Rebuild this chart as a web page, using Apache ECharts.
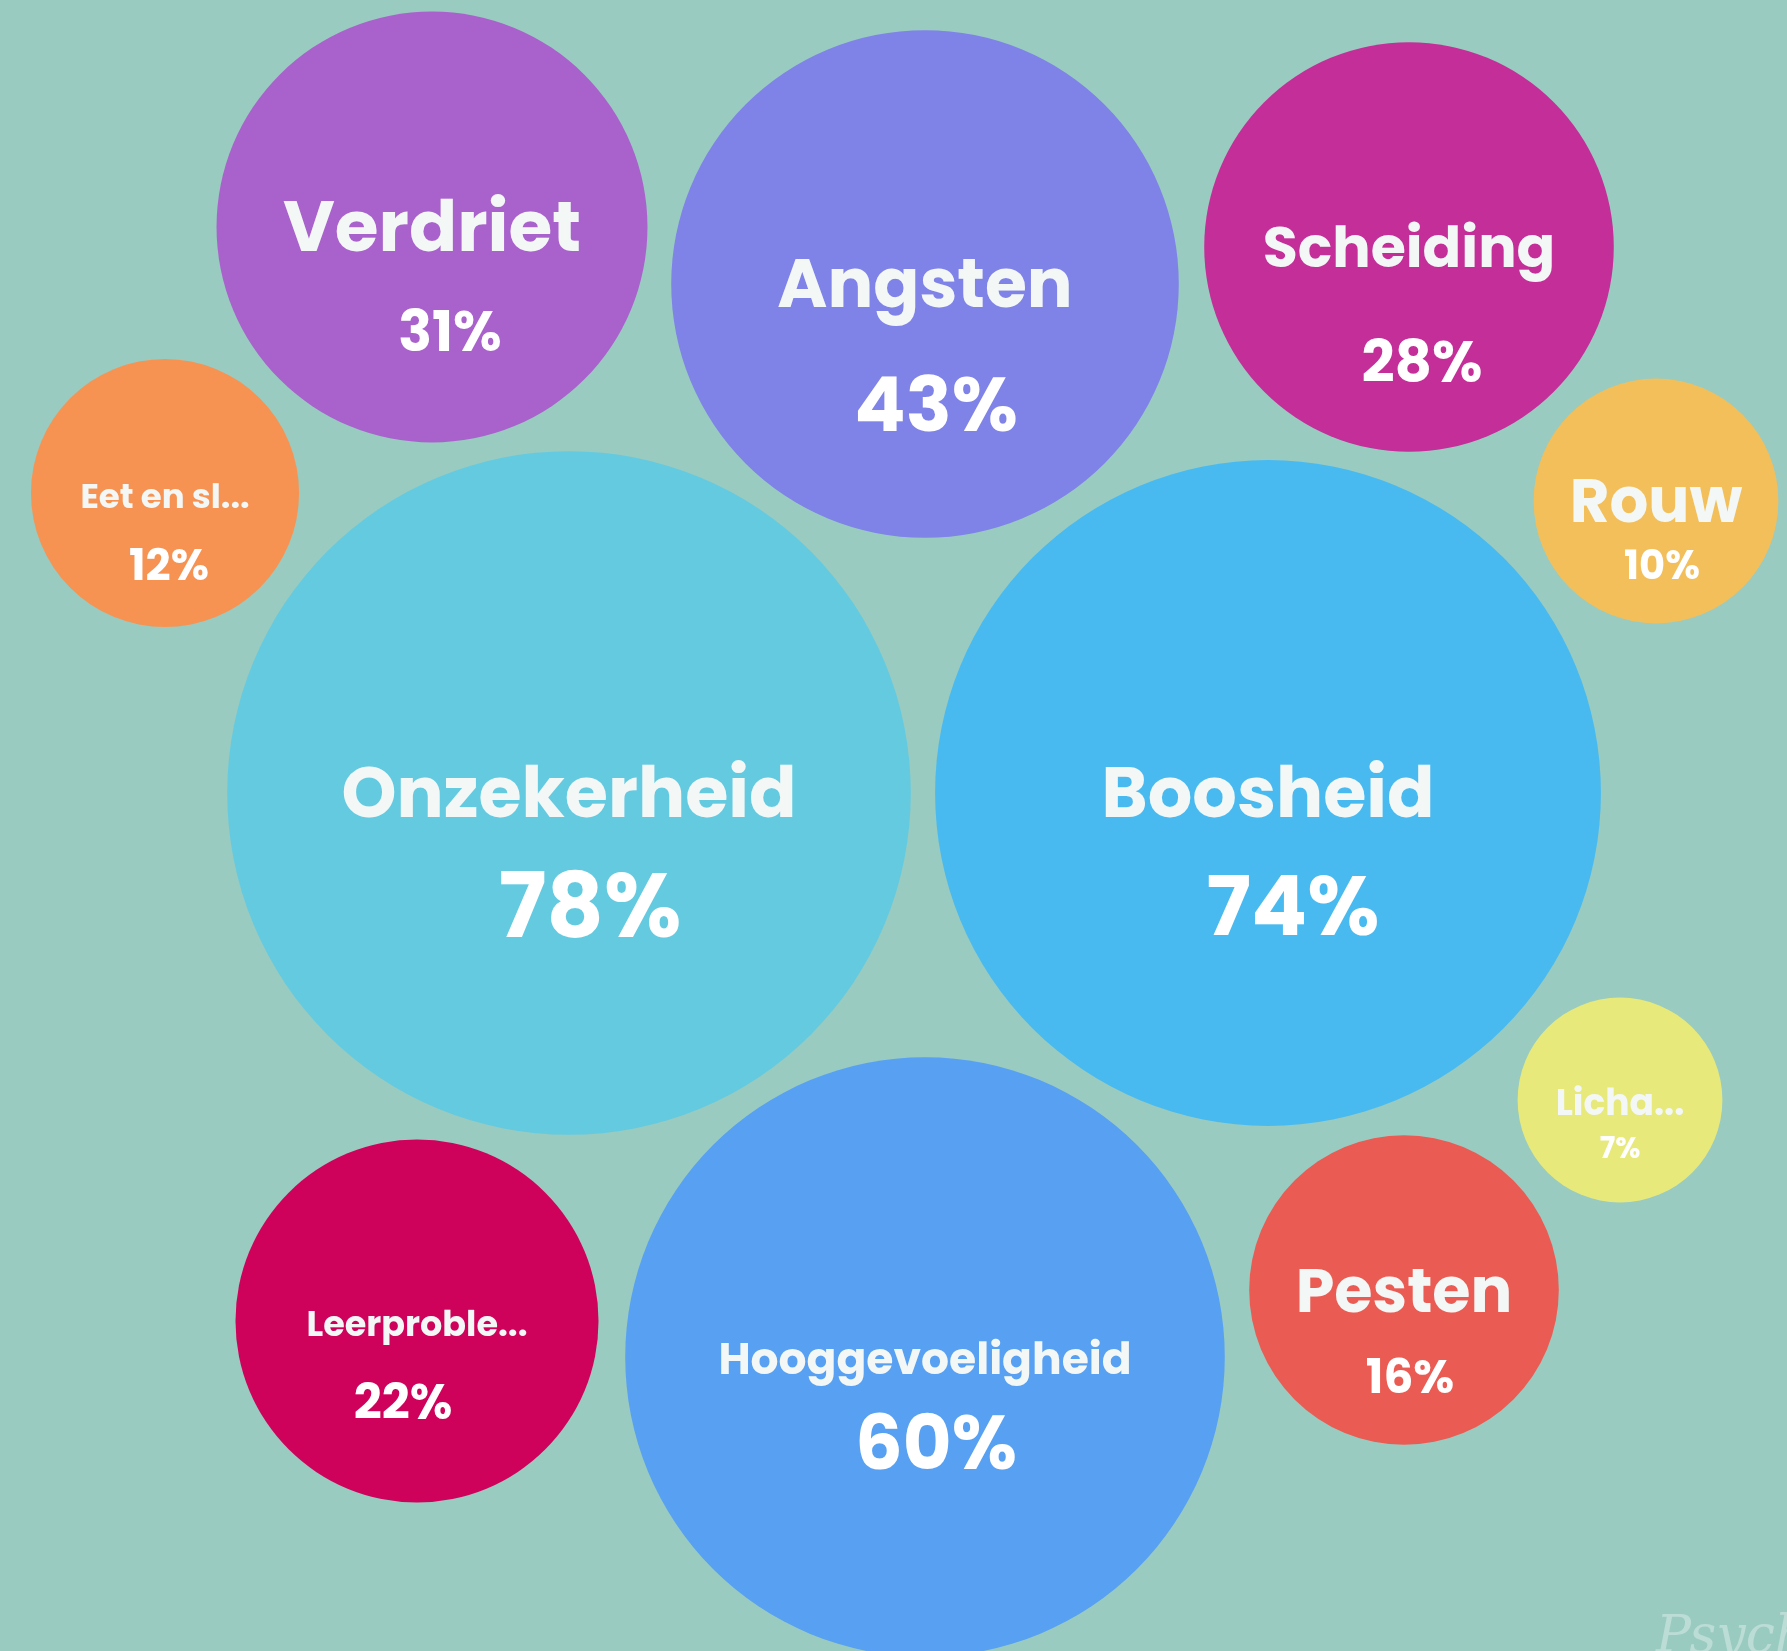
<!DOCTYPE html>
<html>
<head>
<meta charset="utf-8">
<script src="https://cdn.jsdelivr.net/npm/echarts@6/dist/echarts.min.js"></script>
<style>
  html, body { margin: 0; padding: 0; background: #99cbc1; }
  #chart { width: 1787px; height: 1651px; }
</style>
</head>
<body>
<div id="chart"></div>
<script>
var topics = ["Verdriet", "Angsten", "Scheiding", "Eet en sl...", "Rouw", "Onzekerheid",
  "Boosheid", "Licha...", "Leerproble...", "Hooggevoeligheid", "Pesten"];
var shares = [31, 43, 28, 12, 10, 78, 74, 7, 22, 60, 16];
// bubble centres (packed layout, in pixel units of the hidden axes)
var layoutX = [432, 925, 1409, 165, 1656, 569, 1268, 1620, 417, 925, 1404];
var layoutY = [227, 284, 247, 493, 501, 793, 793, 1100, 1321, 1357, 1290];

var colors = ["#a961cb", "#7f82e7", "#c42e98", "#f79352", "#f2bf5b", "#64cae0",
  "#48baf0", "#e7e97b", "#cf025b", "#57a0f2", "#ea5b53"];
// label look per bubble: name size, percent size, distance name->percent, percent nudge
var nameSize = [71, 68, 57, 34, 61, 70, 70, 36, 35, 44, 62];
var pctSize = [56, 76, 58, 44, 40, 89, 83, 29, 49, 75, 47];
var lineGap = [104, 122, 114, 70, 62, 116, 115, 45, 80, 87, 85];
var pctShift = [18, 11, 13, 4, 6, 21, 25, 0, -14, 11, 6];

var font = "Poppins, 'Open Sans', sans-serif";

var data = topics.map(function (name, i) {
  var g = lineGap[i];
  var s = pctShift[i];
  return {
    name: name,
    value: [layoutX[i], layoutY[i], shares[i]],
    itemStyle: { color: colors[i], opacity: 1 },
    label: {
      offset: [0, g / 2 + 6],
      formatter: "{n|" + name + "}\n{p|" + shares[i] + "%}",
      rich: {
        n: { fontSize: nameSize[i], lineHeight: g, color: "#f3f8f7", fontWeight: 700, fontFamily: font },
        p: {
          fontSize: pctSize[i], lineHeight: g, color: "#ffffff", fontWeight: 700, fontFamily: font,
          padding: s >= 0 ? [0, 0, 0, 2 * s] : [0, -2 * s, 0, 0]
        }
      }
    }
  };
});

var myChart = echarts.init(document.getElementById("chart"));
myChart.setOption({
  backgroundColor: "#99cbc1",
  animation: false,
  grid: { left: 0, right: 0, top: 0, bottom: 0 },
  xAxis: { type: "value", min: 0, max: 1787, show: false },
  yAxis: { type: "value", min: 0, max: 1651, inverse: true, show: false },
  graphic: [
    {
      type: "text",
      left: 1656,
      top: 1612,
      style: {
        text: "Psych",
        fontSize: 52,
        fontStyle: "italic",
        fontFamily: "'DejaVu Serif', serif",
        fill: "rgba(255,255,255,0.35)"
      }
    }
  ],
  series: [
    {
      type: "scatter",
      symbol: "circle",
      symbolSize: function (val) {
        return 77.4 * Math.sqrt(val[2]);
      },
      itemStyle: { opacity: 1 },
      label: { show: true, position: "inside" },
      emphasis: { disabled: true },
      data: data
    }
  ]
});
</script>
</body>
</html>
